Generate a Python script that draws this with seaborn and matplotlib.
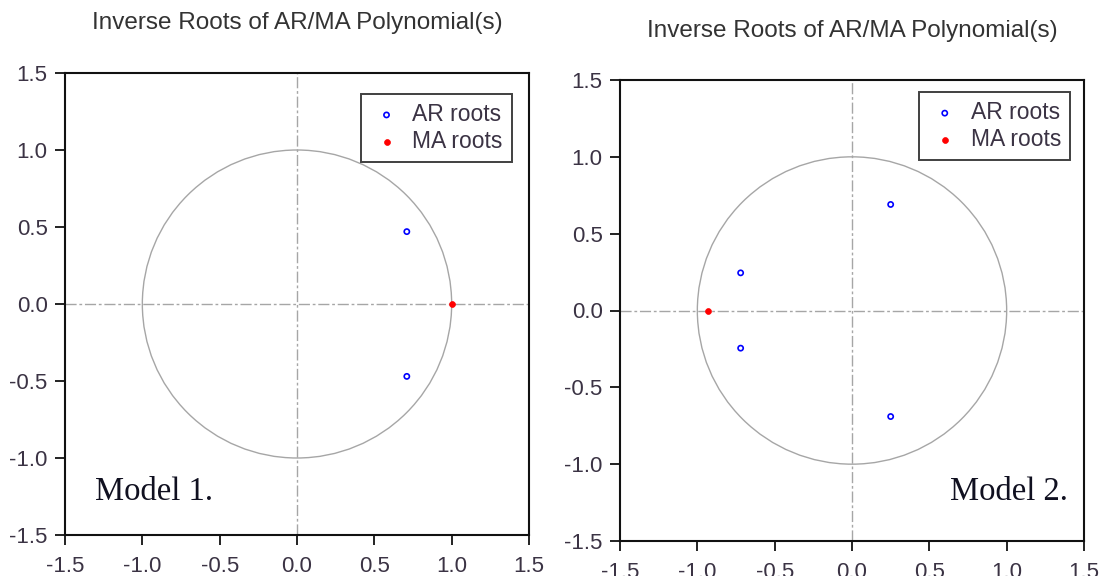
import numpy as np
import pandas as pd
import matplotlib
matplotlib.use("Agg")
import matplotlib.pyplot as plt
from matplotlib.patches import Circle
import seaborn as sns

sns.set_theme(style="white")
plt.rcParams["font.family"] = ["Liberation Sans", "DejaVu Sans"]

# Inverse roots of the fitted AR / MA polynomials
model1_ar_re = [0.71, 0.71]
model1_ar_im = [0.47, -0.47]
model1_ma_re = [1.0]
model1_ma_im = [0.0]

model2_ar_re = [0.25, 0.25, -0.72, -0.72]
model2_ar_im = [0.69, -0.69, 0.245, -0.245]
model2_ma_re = [-0.93]
model2_ma_im = [0.0]

ticks = [-1.5, -1.0, -0.5, 0.0, 0.5, 1.0, 1.5]
tick_labels = ["-1.5", "-1.0", "-0.5", "0.0", "0.5", "1.0", "1.5"]
title = "Inverse Roots of AR/MA Polynomial(s)"
series_names = ["AR roots", "MA roots"]
panel_names = ["Model 1.", "Model 2."]

TEXT = "#3b3344"
GRID = "#a6a6a6"

fig = plt.figure(figsize=(11.02, 5.76), dpi=100)
W, H = 1102, 576


def px_axes(x0, y0, x1, y1):
    return fig.add_axes([x0 / W, 1 - y1 / H, (x1 - x0) / W, (y1 - y0) / H])


def draw_panel(ax, ar_re, ar_im, ma_re, ma_im, name, name_pos, name_ha, leg_anchor):
    ax.set_xlim(-1.5, 1.5)
    ax.set_ylim(-1.5, 1.5)
    ax.add_patch(Circle((0, 0), 1.0, fill=False, edgecolor=GRID, linewidth=1.0, zorder=1))
    ax.axhline(0, color=GRID, linewidth=1.0, dashes=(8, 2, 2, 2), zorder=1)
    ax.axvline(0, color=GRID, linewidth=1.0, dashes=(8, 2, 2, 2), zorder=1)

    ar = pd.DataFrame({"re": ar_re, "im": ar_im})
    ma = pd.DataFrame({"re": ma_re, "im": ma_im})
    sns.scatterplot(data=ar, x="re", y="im", ax=ax, color="#0000ff", facecolor="none",
                    edgecolor="#0000ff", linewidth=1.2, s=14, marker="o",
                    label=series_names[0], zorder=3)
    sns.scatterplot(data=ma, x="re", y="im", ax=ax, color="#ff0000",
                    edgecolor="#ff0000", linewidth=0.5, s=18, marker="o",
                    label=series_names[1], zorder=3)

    ax.set_xlabel("")
    ax.set_ylabel("")
    ax.set_xticks(ticks)
    ax.set_xticklabels(tick_labels)
    ax.set_yticks(ticks)
    ax.set_yticklabels(tick_labels)
    ax.tick_params(axis="both", which="major", direction="out", length=7, width=1.3,
                   color="#111111", labelsize=16, labelcolor=TEXT,
                   bottom=True, left=True, top=False, right=False)
    ax.tick_params(axis="x", pad=8)
    ax.tick_params(axis="y", pad=5.5)
    for sp in ax.spines.values():
        sp.set_color("#111111")
        sp.set_linewidth(1.5)
        sp.set_visible(True)

    leg = ax.legend(loc="upper right", bbox_to_anchor=leg_anchor, frameon=True,
                    fancybox=False, shadow=False, fontsize=16.5, handletextpad=0.4,
                    handlelength=1.45, borderpad=0.4, labelspacing=0.18,
                    borderaxespad=0.0, markerscale=1.0)
    leg.get_frame().set_edgecolor("#111111")
    leg.get_frame().set_linewidth(1.4)
    for t in leg.get_texts():
        t.set_color(TEXT)

    ax.text(name_pos[0], name_pos[1], name, transform=ax.transAxes, ha=name_ha,
            va="baseline", fontsize=23.5, family=["Liberation Serif", "DejaVu Serif"],
            color="#101020")


ax1 = px_axes(65, 73, 529, 535)
draw_panel(ax1, model1_ar_re, model1_ar_im, model1_ma_re, model1_ma_im,
           panel_names[0], (0.065, 0.076), "left", (0.963, 0.955))
fig.text(297 / W, 1 - 23 / H, title, ha="center", va="center", fontsize=17.5, color="#333333")

ax2 = px_axes(620, 80, 1084, 541)
draw_panel(ax2, model2_ar_re, model2_ar_im, model2_ma_re, model2_ma_im,
           panel_names[1], (0.966, 0.089), "right", (0.970, 0.974))
fig.text(852 / W, 1 - 31 / H, title, ha="center", va="center", fontsize=17.5, color="#333333")

fig.savefig("out.png", dpi=100, facecolor="white")
